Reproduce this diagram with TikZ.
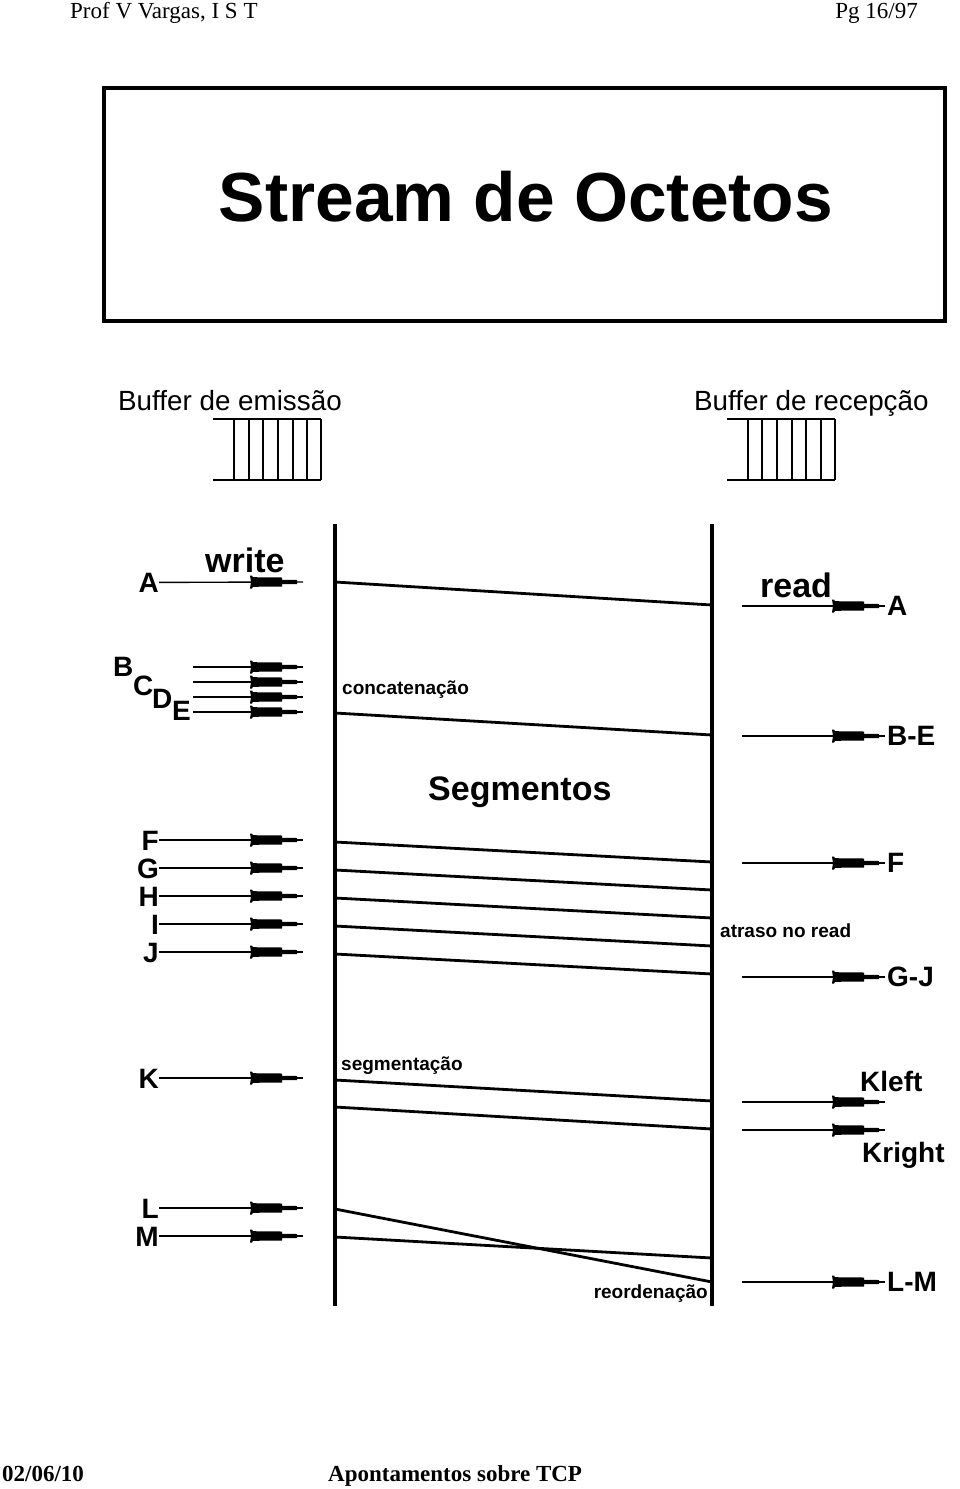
\documentclass[tikz,border=0pt]{standalone}
\usepackage{fontspec}
\setmainfont{Liberation Sans}
\newfontfamily\timesf{Liberation Serif}
\begin{document}
\begin{tikzpicture}[x=1pt,y=-1pt,
  thinl/.style={line width=1.4pt},
  seg/.style={line width=2.8pt},
  tl/.style={line width=3.8pt},
  buf/.style={line width=1.8pt},
  lab/.style={font=\fontsize{28}{30}\selectfont\bfseries, inner sep=0pt, anchor=base west},
  labe/.style={font=\fontsize{28}{30}\selectfont\bfseries, inner sep=0pt, anchor=base east},
  big/.style={font=\fontsize{34}{36}\selectfont\bfseries, inner sep=0pt, anchor=base west},
  small/.style={font=\fontsize{19}{21}\selectfont\bfseries, inner sep=0pt, anchor=base west},
  dart/.pic={\fill (-53,-6.5) -- (-51,-6.5) -- (-50,-4.8) -- (-21,-4.5) -- (-21,-2.2) -- (-6,-2) -- (-6,2) -- (-21,2.2) -- (-21,4.5) -- (-50,4.8) -- (-51,6.5) -- (-53,6.5) -- (-52,0) -- cycle;}
]
\useasboundingbox (0,0) rectangle (960,1489);

% header / footer
\node[font=\timesf\fontsize{23}{25}\selectfont, anchor=base west, inner sep=0pt] (hl) at (70,18) {Prof V Vargas, I S T};
\node[font=\timesf\fontsize{23}{25}\selectfont, anchor=base east, inner sep=0pt] (hr) at (918,18) {Pg 16/97};
\node[font=\timesf\fontsize{23}{25}\selectfont\bfseries, anchor=base west, inner sep=0pt] (fl) at (2,1481) {02/06/10};
\node[font=\timesf\fontsize{23}{25}\selectfont\bfseries, anchor=base west, inner sep=0pt] (fc) at (328,1481) {Apontamentos sobre TCP};

% title box
\draw[line width=3.5pt] (104,88) rectangle (945,321);
\node[font=\fontsize{69.5}{72}\selectfont\bfseries, anchor=base, inner sep=0pt] (title) at (526,221) {Stream de Octetos};

% buffers
\node[font=\fontsize{27.8}{29}\selectfont, inner sep=0pt, anchor=base west] (be) at (118,410) {Buffer de emissão};
\node[font=\fontsize{27.8}{29}\selectfont, inner sep=0pt, anchor=base west] (br) at (694,410) {Buffer de recepção};
\draw[buf] (213,419) -- (321,419) (213,480) -- (321,480);
\foreach \x in {234,248.7,263.3,278,292.7,307.3,321} \draw[buf] (\x,419) -- (\x,480);
\draw[buf] (727,419) -- (835,419) (727,480) -- (835,480);
\foreach \x in {747.7,762.3,777,791.7,806,820.7,835} \draw[buf] (\x,419) -- (\x,480);

% timelines
\coordinate (LT) at (335,524); \coordinate (LB) at (335,1306);
\coordinate (RT) at (712,524); \coordinate (RB) at (712,1306);
\draw[tl] (LT) -- (LB);
\draw[tl] (RT) -- (RB);

% segments
\foreach \n/\ya/\yb in {1/582/605, 2/713/735, 3/842/862, 4/870/890, 5/898/918, 6/926/946, 7/954/974, 8/1080/1101, 9/1107/1129, 10/1209/1282, 11/1237/1258}{
  \coordinate (sa\n) at (335,\ya);
  \coordinate (sb\n) at (712,\yb);
  \draw[seg] (sa\n) -- (sb\n);
}

% left labels and arrows
\node[big] (write) at (205,572) {write};
\node[labe] (lA) at (159,592) {A};
\coordinate (tA) at (303,582);
\draw[thinl] (lA.east) -- (tA); \pic at (tA) {dart};

\node[lab] (lB) at (113,676) {B};
\node[lab] (lC) at (133,695) {C};
\node[lab] (lD) at (152,708) {D};
\node[lab] (lE) at (172,720) {E};
\foreach \n/\y in {B/667,C/682,D/697,E/712}{
  \coordinate (s\n) at (193,\y);
  \coordinate (t\n) at (303,\y);
  \draw[thinl] (s\n) -- (t\n); \pic at (t\n) {dart};
}
\node[small] (conc) at (342,694) {concatenação};

\node[big] (segm) at (428,800) {Segmentos};

\foreach \n/\y in {F/840,G/868,H/896,I/924,J/952,K/1078,L/1208,M/1236}{
  \node[labe] (l\n) at (159,\y+10) {\n};
  \coordinate (t\n) at (303,\y);
  \draw[thinl] (l\n.east |- t\n) -- (t\n); \pic at (t\n) {dart};
}
\node[small] (segt) at (341,1070) {segmentação};
\node[small, anchor=base east] (reord) at (708,1298) {reordenação};

% right side arrows
\node[big] (read) at (760,597) {read};
\foreach \n/\y/\txt in {rA/606/A, rBE/736/B-E, rF/863/F, rGJ/977/G-J, rLM/1282/L-M}{
  \coordinate (s\n) at (742,\y);
  \coordinate (t\n) at (885,\y);
  \node[lab, anchor=west] (l\n) at (887,\y) {\txt};
  \draw[thinl] (s\n) -- (t\n); \pic at (t\n) {dart};
}
\node[small] (atr) at (720,937) {atraso no read};
\coordinate (sKl) at (742,1102); \coordinate (tKl) at (885,1102);
\coordinate (sKr) at (742,1130); \coordinate (tKr) at (885,1130);
\draw[thinl] (sKl) -- (tKl); \pic at (tKl) {dart};
\draw[thinl] (sKr) -- (tKr); \pic at (tKr) {dart};
\node[lab] (kleft) at (860,1091) {Kleft};
\node[lab] (kright) at (862,1162) {Kright};
\end{tikzpicture}
\end{document}
